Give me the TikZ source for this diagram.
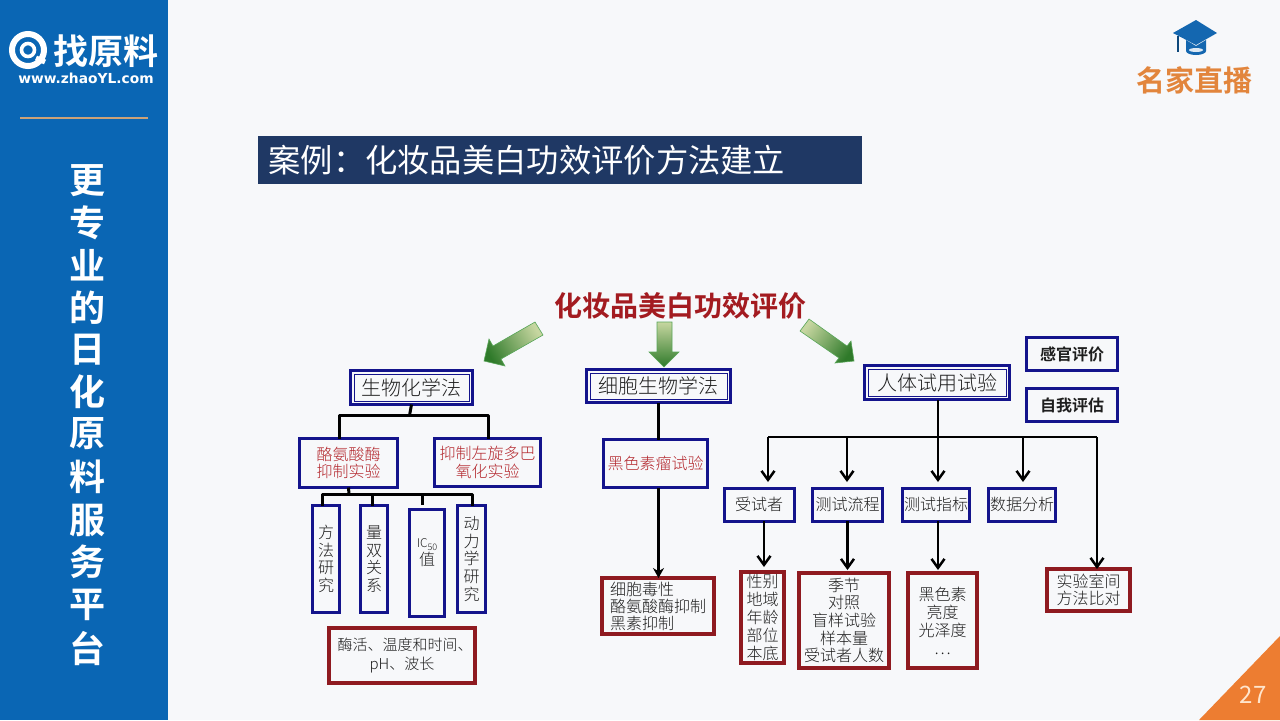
\documentclass[tikz,border=0pt]{standalone}
\usepackage{fontspec}
\setmainfont{Noto Sans CJK SC}[UprightFont={* Light},BoldFont={* Bold}]
\newfontfamily\cjkreg{Noto Sans CJK SC}
\newfontfamily\latinbold{DejaVu Sans}
\usetikzlibrary{arrows.meta,calc}
\definecolor{pagebg}{HTML}{F7F8FA}
\definecolor{sidebar}{HTML}{0A66B4}
\definecolor{titlebar}{HTML}{1F3864}
\definecolor{navy}{HTML}{14148C}
\definecolor{boxred}{HTML}{8F1A20}
\definecolor{textred}{HTML}{B3262C}
\definecolor{headred}{HTML}{A31B20}
\definecolor{orangeacc}{HTML}{ED7D31}
\definecolor{orangetxt}{HTML}{E2853C}
\definecolor{capblue}{HTML}{1467B0}
\definecolor{inktext}{HTML}{1E1E1E}
\definecolor{gdark}{HTML}{2F7A2A}
\definecolor{glight}{HTML}{C6D6A0}
\tikzset{
  x=0.5pt,y=-0.5pt,
  sz/.style 2 args={minimum width=#1*0.5pt,minimum height=#2*0.5pt},
  basebox/.style={rectangle,draw,inner sep=0pt,outer sep=0pt,align=center,fill=pagebg,text=inktext,font=\fontsize{8}{8.8}\selectfont},
  bluebox/.style={basebox,draw=navy,line width=1.5pt},
  redbox/.style={basebox,draw=boxred,line width=2pt},
  headbox/.style={bluebox,font=\fontsize{10}{11}\selectfont},
  innerframe/.style={draw=navy,line width=0.4pt},
  redtext/.style={text=textred},
  boldbox/.style={bluebox,font=\fontsize{8}{8.8}\selectfont\bfseries},
  bar/.style={draw=black,line width=1.5pt,line join=round},
  thinbar/.style={draw=black,line width=1.25pt,line join=round},
  barb/.style={thinbar,-{Straight Barb[length=4.5pt,width=6.5pt]}},
  solidarrow/.style={bar,-{Stealth[length=5pt,width=5.5pt]}},
  greenarrow/.style={draw=gray!70!green,line width=0.3pt,bottom color=gdark,top color=glight},
  sidetext/.style={text=white,font=\fontsize{18}{20}\selectfont\bfseries},
}
\begin{document}
\begin{tikzpicture}
\useasboundingbox (0,0) rectangle (1280,720);
\fill[pagebg] (0,0) rectangle (1280,720);
% side bar
\fill[sidebar] (0,0) rectangle (168,720);
\draw[white,line width=3pt] (28,50) circle[radius=16];
\draw[white,line width=1.8pt] (28,50) circle[radius=6.5];
\draw[white,line width=2.5pt] (36,58) -- (45,62);
\node[anchor=center,text=white,font=\fontsize{17.5}{18}\selectfont\bfseries,inner sep=0pt] (logo) at (106,51) {找原料};
\node[anchor=center,text=white,font=\fontsize{6.9}{8}\selectfont\latinbold\bfseries,inner sep=0pt] (url) at (86,78) {www.zhaoYL.com};
\draw[color=white!45!orange!60!gray,line width=1pt] (20,118) -- (148,118);
\foreach \ch/\yy/\nm in {更/181/s1,专/223/s2,业/265/s3,的/308/s4,日/350/s5,化/392/s6,原/434/s7,料/477/s8,服/520/s9,务/562/s10,平/605/s11,台/648/s12}
  \node[sidetext,inner sep=0pt] (\nm) at (87,\yy) {\ch};
% title bar
\node[rectangle,fill=titlebar,inner sep=0pt,sz={604}{48},anchor=center] (titlebg) at (560,160) {};
\node[anchor=west,text=white,inner sep=0pt,font=\fontsize{16.15}{18}\selectfont\cjkreg] (titletxt) at (268,160) {案例：化妆品美白功效评价方法建立};
% top right logo
\fill[capblue] (1196,20) -- (1217,33) -- (1196,45) -- (1173,33) -- cycle;
\fill[capblue] (1186,40) -- (1196,46) -- (1206,40) -- (1206,51) arc[start angle=0,end angle=180,x radius=10,y radius=4] -- cycle;
\fill[white!85!capblue] (1196,50) ellipse[x radius=7,y radius=2];
\draw[capblue!70!black,line width=.6pt] (1178,36) -- (1178,52);
\node[text=orangetxt,font=\fontsize{14.5}{16}\selectfont\bfseries,inner sep=0pt] (brand) at (1194,80) {名家直播};
% corner
\fill[orangeacc] (1280,636) -- (1280,720) -- (1199,720) -- cycle;
\node[text=white!80!orange,font=\fontsize{12}{13}\selectfont\cjkreg,inner sep=0pt] (pageno) at (1253,695) {27};
% main title
\node[text=headred,font=\fontsize{14}{15}\selectfont\bfseries,inner sep=0pt] (main) at (680,306) {化妆品美白功效评价};
% green arrows
\shadedraw[greenarrow,shading angle=-60] (535,322) -- (543,335) -- (501,359) -- (505,366) -- (484,361) -- (489,339) -- (493,346) -- cycle;
\shadedraw[greenarrow] (657,322) -- (672,322) -- (672,352) -- (679,352) -- (664,367) -- (649,352) -- (657,352) -- cycle;
\shadedraw[greenarrow,shading angle=55] (809,319) -- (800,331) -- (839,358) -- (835,363) -- (854,361) -- (851,341) -- (847,346) -- cycle;
% heading boxes
\node[headbox,sz={122}{34}] (bio) at (411.5,387.5) {生物化学法};
\node[headbox,sz={144}{33}] (cell) at (658.5,386) {细胞生物学法};
\node[headbox,sz={145}{34}] (human) at (937,382.5) {人体试用试验};
\foreach \nm in {bio,cell,human}
  \draw[innerframe] ([xshift=1.7pt,yshift=1.7pt]\nm.south west) rectangle ([xshift=-1.7pt,yshift=-1.7pt]\nm.north east);
\node[boldbox,sz={91}{33}] (sense) at (1072,354) {感官评价};
\node[boldbox,sz={91}{33}] (self) at (1072,405) {自我评估};
% biochem branch
\node[bluebox,redtext,sz={98}{49}] (tyr) at (348.5,463) {酪氨酸酶\\抑制实验};
\node[bluebox,redtext,sz={106}{48}] (dopa) at (487.5,462.5) {抑制左旋多巴\\氧化实验};
\node[bluebox,sz={27}{107}] (m1) at (326,559) {方\\法\\研\\究};
\node[bluebox,sz={27}{107}] (m2) at (374,559) {量\\双\\关\\系};
\node[bluebox,sz={35}{107}] (m3) at (427,563) {};
\node[text=inktext,align=center,inner sep=0pt,font=\fontsize{8}{8}\selectfont] (m3t) at (427,553) {{\fontsize{6}{7}\selectfont IC\raisebox{-.4ex}{\fontsize{4.5}{5}\selectfont 50}}\\值};
\node[bluebox,sz={28}{107}] (m4) at (471.5,559) {动\\力\\学\\研\\究};
\node[redbox,sz={146}{55},font=\fontsize{7.5}{9.5}\selectfont] (cond) at (402,655.5) {\hspace*{3pt}酶活、温度和时间、\\pH、波长};
% cell branch
\node[bluebox,redtext,sz={104}{48}] (mel) at (655.5,463.5) {黑色素瘤试验};
\node[redbox,sz={112}{56},align=left,font=\fontsize{8}{8.5}\selectfont] (tox) at (658,606) {细胞毒性\\酪氨酸酶抑制\\黑素抑制};
% human branch
\node[bluebox,sz={70}{33}] (h1) at (759,504.5) {受试者};
\node[bluebox,sz={70}{33}] (h2) at (847.5,504.5) {测试流程};
\node[bluebox,sz={67}{33}] (h3) at (936,504.5) {测试指标};
\node[bluebox,sz={67}{33}] (h4) at (1022,504.5) {数据分析};
\node[redbox,sz={43}{91},font=\fontsize{8}{8.9}\selectfont] (r1) at (762.5,617.5) {性别\\地域\\年龄\\部位\\本底};
\node[redbox,sz={90}{95},font=\fontsize{8}{8.8}\selectfont] (r2) at (844,620.5) {季节\\对照\\盲样试验\\样本量\\受试者人数};
\node[redbox,sz={69}{95},font=\fontsize{8}{9}\selectfont] (r3) at (942.5,620.5) {黑色素\\亮度\\光泽度\\…};
\node[redbox,sz={83}{42},font=\fontsize{8}{8.8}\selectfont] (r4) at (1088.5,590) {实验室间\\方法比对};
% bus coordinates
\coordinate (bioBus) at (409.5,415.5);
\coordinate (bioL) at (339,415.5);
\coordinate (bioR) at (488,415.5);
\coordinate (tyrBus) at (349,494);
\coordinate (tyrL) at (322,494);
\coordinate (tyrB) at (372,494);
\coordinate (tyrC) at (422,494);
\coordinate (tyrR) at (472,494);
\coordinate (tyrCEnd) at (422,505);
\coordinate (humBus) at (938,437);
\coordinate (humA) at (768,437);
\coordinate (humB) at (847,437);
\coordinate (humD) at (1023,437);
\coordinate (humE) at (1097,437);
\coordinate (r1Top) at (764,570);
% biochem connectors
\draw[bar] (bio.south) -- (bioBus);
\draw[bar] (bioL |- tyr.north) -- (bioL) -- (bioR) -- (bioR |- dopa.north);
\draw[bar] (tyr.south) -- (tyrBus);
\draw[bar] (tyrL |- m1.north) -- (tyrL) -- (tyrR) -- (tyrR |- m4.north);
\draw[bar] (tyrB) -- (tyrB |- m2.north);
\draw[bar] (tyrC) -- (tyrCEnd);
% cell connectors
\draw[bar] (cell.south) -- (cell.south |- mel.north);
\draw[solidarrow] (cell.south |- mel.south) -- (cell.south |- tox.north);
% human connectors
\draw[thinbar] (humBus |- human.south) -- (humBus);
\draw[thinbar] (humA) -- (humE);
\draw[barb,shorten >=3pt] (humA) -- (humA |- h1.north);
\draw[barb,shorten >=3pt] (humB) -- (humB |- h2.north);
\draw[barb,shorten >=3pt] (humBus) -- (humBus |- h3.north);
\draw[barb,shorten >=3pt] (humD) -- (humD |- h4.north);
\draw[barb] (humE) -- (humE |- r4.north);
\draw[barb,shorten >=1.5pt] (r1Top |- h1.south) -- (r1Top);
\draw[barb,shorten >=1.5pt] (h2.south) -- (h2.south |- r2.north);
\draw[barb,shorten >=1.5pt] (humBus |- h3.south) -- (humBus |- r3.north);
\end{tikzpicture}
\end{document}
